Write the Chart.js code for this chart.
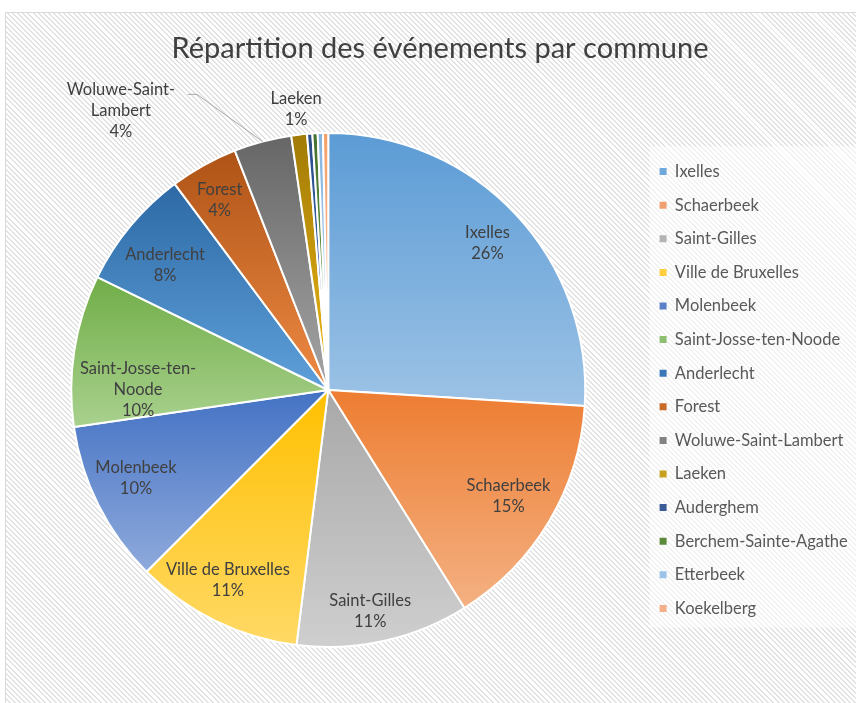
<!DOCTYPE html>
<html>
<head>
<meta charset="utf-8">
<script src="https://cdn.jsdelivr.net/npm/chart.js@4.4.1/dist/chart.umd.min.js"></script>
<style>
  html, body { margin: 0; padding: 0; width: 856px; height: 703px; overflow: hidden; background: #ffffff; }
  #frame { position: absolute; left: 5px; top: 12px; width: 870px; height: 700px; border: 1px solid #d9d9d9;
    background: repeating-linear-gradient(45deg, #ffffff 0px, #ffffff 2.2px, #e2e2e2 2.2px, #e2e2e2 3.6px); }
  #wrap { position: absolute; left: 0; top: 0; }
</style>
</head>
<body>
<div id="frame"></div>
<div id="wrap"><canvas id="c" width="866" height="703"></canvas></div>
<script>
// ---- data ----
const chartTitle = 'Répartition des événements par commune';
const communes = ['Ixelles', 'Schaerbeek', 'Saint-Gilles', 'Ville de Bruxelles', 'Molenbeek',
  'Saint-Josse-ten-Noode', 'Anderlecht', 'Forest', 'Woluwe-Saint-Lambert', 'Laeken',
  'Auderghem', 'Berchem-Sainte-Agathe', 'Etterbeek', 'Koekelberg'];
const evenements = [79, 46, 33, 32, 31, 29, 23, 13, 11, 3, 1, 1, 1, 1];

// ---- styles ----
const topColors = ['#5B9BD5', '#ED7D31', '#A8A8A8', '#FFC000', '#4472C4', '#70AD47', '#2C69A5',
  '#AE5316', '#666666', '#A07A06', '#2A4C86', '#47702E', '#85B5E0', '#F3A06A'];
const bottomColors = ['#9DC3E6', '#F4B183', '#CFCFCF', '#FFD966', '#8FAADC', '#A9D18E', '#5FA0DA',
  '#EE8A44', '#A5A5A5', '#F0B814', '#4472C4', '#70AD47', '#BDD7EE', '#F8CBAD'];
const legendColors = ['#6FA8DC', '#F0A070', '#B4B4B4', '#FFCF40', '#5A80C8', '#8CC070', '#3A78B8',
  '#C86A28', '#828282', '#C8A020', '#3A5A98', '#5A8A3A', '#9CC4E8', '#F4B08A'];
const wrappedNames = { 'Saint-Josse-ten-Noode': ['Saint-Josse-ten-', 'Noode'], 'Woluwe-Saint-Lambert': ['Woluwe-Saint-', 'Lambert'] };
const FONT = 'Lato, "Open Sans", sans-serif';

const total = evenements.reduce((a, b) => a + b, 0);

function sliceGradient(ctx) {
  const chart = ctx.chart;
  const area = chart.chartArea;
  const i = ctx.dataIndex;
  if (!area || i === undefined) return topColors[i] || '#cccccc';
  const cx = (area.left + area.right) / 2, cy = (area.top + area.bottom) / 2;
  const r = Math.min(area.width, area.height) / 2;
  let before = 0;
  for (let k = 0; k < i; k++) before += evenements[k];
  const a0 = -Math.PI / 2 + before / total * 2 * Math.PI;
  const a1 = a0 + evenements[i] / total * 2 * Math.PI;
  const ys = [cy, cy + r * Math.sin(a0), cy + r * Math.sin(a1)];
  const has = (ang) => { for (let t = ang - 4 * Math.PI; t <= ang + 4 * Math.PI; t += 2 * Math.PI) { if (t >= a0 && t <= a1) return true; } return false; };
  if (has(Math.PI / 2)) ys.push(cy + r);
  if (has(-Math.PI / 2)) ys.push(cy - r);
  const y0 = Math.min(...ys), y1 = Math.max(...ys);
  const g = chart.ctx.createLinearGradient(0, y0, 0, Math.max(y1, y0 + 1));
  g.addColorStop(0, topColors[i]);
  g.addColorStop(1, bottomColors[i]);
  return g;
}

const legendBackdrop = {
  id: 'legendBackdrop',
  beforeDraw(chart) {
    const lg = chart.legend;
    if (!lg || !lg.legendHitBoxes || !lg.legendHitBoxes.length) return;
    const hb = lg.legendHitBoxes;
    const first = hb[0], last = hb[hb.length - 1];
    const ctx = chart.ctx;
    ctx.save();
    ctx.fillStyle = 'rgba(255,255,255,0.55)';
    const x0 = first.left - 10, y0 = first.top - 17, y1 = last.top + last.height + 11;
    ctx.fillRect(x0, y0, chart.width - x0, y1 - y0);
    ctx.restore();
  }
};

const sliceLabels = {
  id: 'sliceLabels',
  afterDatasetsDraw(chart, args, opts) {
    const meta = chart.getDatasetMeta(0);
    const ctx = chart.ctx;
    ctx.save();
    ctx.font = opts.fontSize + 'px ' + FONT;
    ctx.fillStyle = opts.color;
    ctx.textAlign = 'center';
    ctx.textBaseline = 'middle';
    meta.data.forEach((arc, i) => {
      const name = communes[i];
      const share = evenements[i] / total;
      if (share < opts.minShare) return;
      const p = arc.getProps(['x', 'y', 'startAngle', 'endAngle', 'outerRadius'], true);
      const place = opts.placement[name] || {};
      const mid = (p.startAngle + p.endAngle) / 2;
      const ang = mid + (place.da || 0) * Math.PI / 180;
      const rf = place.r !== undefined ? place.r : opts.radius;
      const lx = p.x + Math.cos(ang) * p.outerRadius * rf;
      const ly = p.y + Math.sin(ang) * p.outerRadius * rf;
      const lines = (wrappedNames[name] || [name]).concat([Math.round(share * 100) + '%']);
      lines.forEach((t, k) => ctx.fillText(t, lx, ly + (k - (lines.length - 1) / 2) * opts.lineHeight));
      if (place.leader) {
        const ex = p.x + Math.cos(mid) * p.outerRadius, ey = p.y + Math.sin(mid) * p.outerRadius;
        ctx.strokeStyle = opts.leaderColor;
        ctx.lineWidth = 1;
        ctx.beginPath();
        ctx.moveTo(lx + place.leader[0], ly + place.leader[2]);
        ctx.lineTo(lx + place.leader[1], ly + place.leader[2]);
        ctx.lineTo(ex, ey);
        ctx.stroke();
      }
    });
    ctx.restore();
  }
};

new Chart(document.getElementById('c'), {
  type: 'pie',
  data: {
    labels: communes,
    datasets: [{
      data: evenements,
      backgroundColor: sliceGradient,
      borderColor: '#ffffff',
      borderWidth: 2
    }]
  },
  plugins: [legendBackdrop, sliceLabels],
  options: {
    responsive: false,
    animation: false,
    devicePixelRatio: 1,
    layout: { padding: { left: 14, right: 0, top: 0, bottom: 55 } },
    plugins: {
      tooltip: { enabled: false },
      title: {
        display: true,
        text: chartTitle,
        color: '#404040',
        font: { family: FONT, size: 29, weight: 'normal', lineHeight: 1.2 },
        padding: { top: 31.5, bottom: 65.7 }
      },
      legend: {
        position: 'right',
        fullSize: false,
        labels: {
          boxWidth: 7,
          boxHeight: 7,
          padding: 17.1,
          color: '#595959',
          font: { family: FONT, size: 16.5 },
          generateLabels(chart) {
            // trailing en space only reserves room on the right of the legend column
            return communes.map((n, i) => ({
              text: n + '\u2002', fillStyle: legendColors[i], strokeStyle: legendColors[i], lineWidth: 0,
              hidden: false, index: i, fontColor: '#595959'
            }));
          }
        }
      },
      sliceLabels: {
        fontSize: 16.5,
        lineHeight: 21,
        color: '#404040',
        leaderColor: '#a6a6a6',
        minShare: 0.008,
        radius: 0.83,
        placement: {
          'Ixelles': { r: 0.842, da: 0.6 },
          'Schaerbeek': { r: 0.813, da: -0.4 },
          'Saint-Gilles': { r: 0.876, da: 1.7 },
          'Ville de Bruxelles': { r: 0.836, da: 1.8 },
          'Molenbeek': { r: 0.823, da: 2.0 },
          'Saint-Josse-ten-Noode': { r: 0.74, da: -8.7 },
          'Anderlecht': { r: 0.80, da: -2.2 },
          'Forest': { r: 0.85, da: -0.8 },
          'Woluwe-Saint-Lambert': { r: 1.353, da: -21.8, leader: [67, 76, -16.5] },
          'Laeken': { r: 1.10 }
        }
      }
    }
  }
});
</script>
</body>
</html>
